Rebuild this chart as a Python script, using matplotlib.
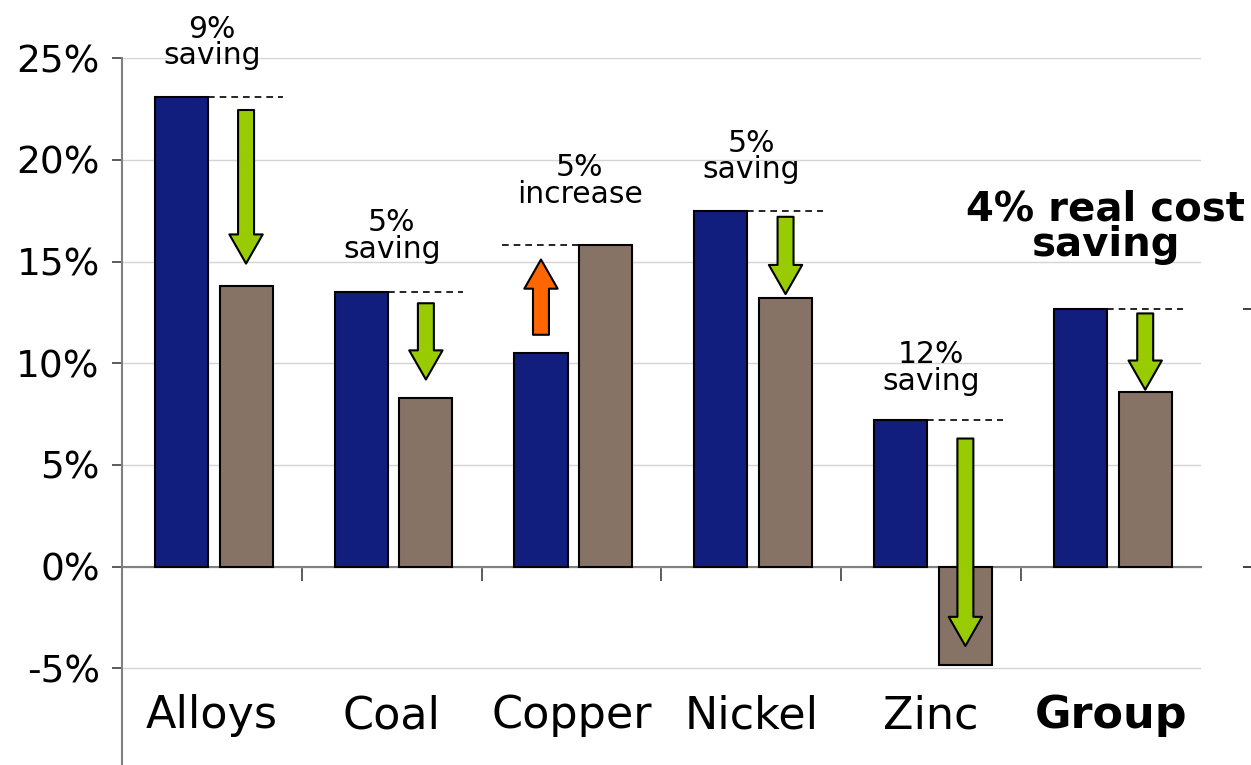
import matplotlib.pyplot as plt
from matplotlib.patches import FancyArrowPatch

categories = ['Alloys', 'Coal', 'Copper', 'Nickel', 'Zinc', 'Group']
before = [23.1, 13.5, 10.5, 17.5, 7.2, 12.65]
after = [13.8, 8.3, 15.8, 13.2, -4.85, 8.6]
change_labels = ['9%\nsaving', '5%\nsaving', '5%\nincrease',
                 '5%\nsaving', '12%\nsaving', '4% real cost\nsaving']
label_gap = [1.3, 1.4, 1.8, 1.3, 1.2, 2.2]
label_shift = [0, 0, 0.045, 0, 0, -0.03]
arrow_from = [22.45, 12.95, 11.4, 17.2, 6.3, 12.45]
arrow_to = [14.9, 9.2, 15.1, 13.4, -3.9, 8.7]
yticks = [-5, 0, 5, 10, 15, 20, 25]

BLUE = '#111e7e'
BROWN = '#877366'
GREEN = '#99cc00'
ORANGE = '#ff6600'

W = 0.295
OFF_B, OFF_A = -0.17, 0.19

fig = plt.figure(figsize=(12.51, 7.65), dpi=100)
ax = fig.add_axes([0.0975, 0.0, 0.8625, 0.924])

# spine placement first: moving a spine resets its tick labels
ax.spines['bottom'].set_position(('data', 0))
ax.spines['bottom'].set_color('#808080')
ax.spines['bottom'].set_linewidth(1.5)
ax.spines['left'].set_color('#808080')
ax.spines['left'].set_linewidth(1.5)
ax.spines['top'].set_visible(False)
ax.spines['right'].set_visible(False)

x = list(range(len(categories)))
ax.bar([i + OFF_B for i in x], before, W, color=BLUE, edgecolor='black', linewidth=1.5, zorder=3)
ax.bar([i + OFF_A for i in x], after, W, color=BROWN, edgecolor='black', linewidth=1.5, zorder=3)

for i, (b, a) in enumerate(zip(before, after)):
    if a < b:
        # reference line from the first bar's top across the second bar
        ax.plot([i + OFF_B + W / 2, i + OFF_A + W / 2 + 0.06], [b, b],
                color='black', lw=1.2, ls=(0, (4, 3)), zorder=4)
        ax_x, col = i + OFF_A, GREEN
    else:
        ax.plot([i + OFF_B - W / 2 - 0.07, i + OFF_A - W / 2], [a, a],
                color='black', lw=1.2, ls=(0, (4, 3)), zorder=4)
        ax_x, col = i + OFF_B, ORANGE
    arr = FancyArrowPatch((ax_x, arrow_from[i]), (ax_x, arrow_to[i]),
                          arrowstyle='simple,head_length=21,head_width=24,tail_width=11.5',
                          mutation_scale=1, shrinkA=0, shrinkB=0,
                          facecolor=col, edgecolor='black', linewidth=1.5, zorder=5)
    ax.add_patch(arr)

    group = categories[i] == 'Group'
    ax.text(i + label_shift[i], max(b, a) + label_gap[i], change_labels[i],
            ha='center', va='bottom',
            fontsize=29 if group else 21.5, fontweight='bold' if group else 'normal',
            linespacing=0.85 if group else 0.9, zorder=6)

ax.set_xlim(-0.5, 5.5)
ax.set_ylim(-9.75, 25)

ax.set_yticks(yticks)
ax.set_yticklabels([f'{v}%' for v in yticks])
ax.yaxis.grid(True, color='#d4d4d4', lw=1)
ax.set_axisbelow(True)
ax.tick_params(axis='y', length=7, width=1.2, color='#404040', pad=9, labelsize=27)

ax.set_xticks(x)
ax.set_xticks([i + 0.5 for i in x[:-1]], minor=True)
ax.set_xticklabels(categories)
ax.tick_params(axis='x', which='major', length=0, pad=92, labelsize=32)
ax.tick_params(axis='x', which='minor', length=10, width=1.2, color='#404040')
ax.get_xticklabels()[-1].set_fontweight('bold')

# secondary axis ticks at the far right edge
ax2 = ax.twinx()
ax2.set_ylim(ax.get_ylim())
for s in ax2.spines.values():
    s.set_visible(False)
ax2.spines['right'].set_position(('axes', 1.0463))
ax2.set_yticks([0, before[-1]])
ax2.tick_params(axis='y', direction='in', length=6, width=1.2, color='#202020', labelright=False)

fig.savefig('out.png', dpi=100)
